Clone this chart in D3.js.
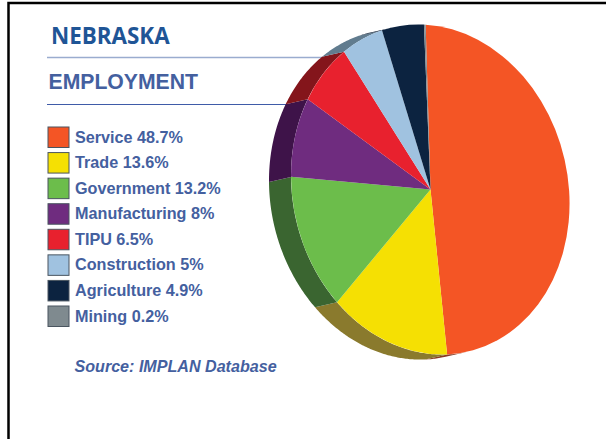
<!DOCTYPE html>
<html><head><meta charset="utf-8">
<script src="https://cdn.jsdelivr.net/npm/d3@7"></script>
<style>html,body{margin:0;padding:0;background:#fff}svg{display:block}</style>
</head><body><svg id="c" width="606" height="439"></svg>
<script>
const categories = ["Service","Trade","Government","Manufacturing","TIPU","Construction","Agriculture","Mining"];
const values = [48.7,13.6,13.2,8,6.5,5,4.9,0.2];
const labels = ["48.7%","13.6%","13.2%","8%","6.5%","5%","4.9%","0.2%"];
const colors = ["#f45525","#f5e003","#6cbd4b","#6f2c7f","#e8212e","#a0c2e0","#0c2340","#7f8a8f"];
const sideColors = ["#8a3a22","#8a7a2d","#3a6530","#3e1349","#84151b","#617c8f","#0a1a30","#5f7a8c"];
const titleMain = "NEBRASKA", titleSub = "EMPLOYMENT", source = "Source: IMPLAN Database";

const svg = d3.select("#c");
const W=606,H=439;
// frame
svg.append("path").attr("d",`M8.5,${H}V3H${W}`).attr("fill","none").attr("stroke","#000").attr("stroke-width",2.5);

// rules
const rules=[{y:57.5,x2:330,c:"#9aaccf",w:1.5},{y:104.5,x2:295,c:"#3f5ba8",w:1}];
svg.selectAll(".r").data(rules).join("line").attr("x1",47).attr("x2",d=>d.x2).attr("y1",d=>d.y).attr("y2",d=>d.y)
  .attr("stroke",d=>d.c).attr("stroke-width",d=>d.w);

svg.append("text").attr("x",51).attr("y",44).text(titleMain)
  .attr("font-family","'Open Sans'").attr("font-weight",700).attr("font-size",22.4).attr("fill","#1f5596");
svg.append("text").attr("x",48.5).attr("y",89).text(titleSub)
  .attr("font-family","'Liberation Sans'").attr("font-weight",700).attr("font-size",21.2).attr("fill","#44609f");

// legend
const rowY=d3.scaleLinear().domain([0,7]).range([137,316]);
const lg=svg.selectAll(".lg").data(categories).join("g").attr("transform",(d,i)=>`translate(0,${rowY(i)})`);
lg.append("rect").attr("x",48).attr("y",-10).attr("width",21).attr("height",20.5)
  .attr("fill",(d,i)=>colors[i]).attr("stroke","#4a5560").attr("stroke-width",1);
lg.append("text").attr("x",75).attr("y",5.5).text((d,i)=>`${d} ${labels[i]}`)
  .attr("font-family","'Liberation Sans'").attr("font-weight",700).attr("font-size",16.2).attr("fill","#44609f");
svg.append("text").attr("x",74.5).attr("y",372).text(source)
  .attr("font-family","'Liberation Sans'").attr("font-weight",700).attr("font-style","italic").attr("font-size",16.1).attr("fill","#44609f");

// pie: unit d3.arc mapped through a sheared ellipse
const cx=430.5,cy=189.5,rx=139.5,ry=164.5,skew=0.1,dx=-22,dy=5;
const start=-2*Math.PI/180;
const pie=d3.pie().sort(null).startAngle(start).endAngle(start+2*Math.PI);
const arcs=pie(values);
const ptx=a=>cx+rx*Math.sin(a), pty=a=>cy-ry*Math.cos(a)+skew*rx*Math.sin(a);
// the side wall only shows where the rim faces the extrusion direction
const faces=a=>{
  const tx=rx*Math.cos(a), ty=ry*Math.sin(a)+skew*rx*Math.cos(a);
  return ty*dx-tx*dy>0;
};
const line=d3.line();
function sidePath(d){
  const n=Math.max(2,Math.ceil((d.endAngle-d.startAngle)/0.01));
  const as=d3.range(n+1).map(i=>d.startAngle+(d.endAngle-d.startAngle)*i/n).filter(faces);
  if(as.length<2) return null;
  const top=as.map(a=>[ptx(a),pty(a)]);
  const bot=as.slice().reverse().map(a=>[ptx(a)+dx,pty(a)+dy]);
  return line(top.concat(bot))+"Z";
}
svg.append("g").selectAll("path").data(arcs).join("path").attr("d",sidePath)
  .attr("fill",(d,i)=>sideColors[i]);
const arc=d3.arc().innerRadius(0).outerRadius(1);
svg.append("g").attr("transform",`matrix(${rx},${skew*rx},0,${ry},${cx},${cy})`)
  .selectAll("path").data(arcs).join("path").attr("d",arc).attr("fill",(d,i)=>colors[i]);
</script></body></html>
